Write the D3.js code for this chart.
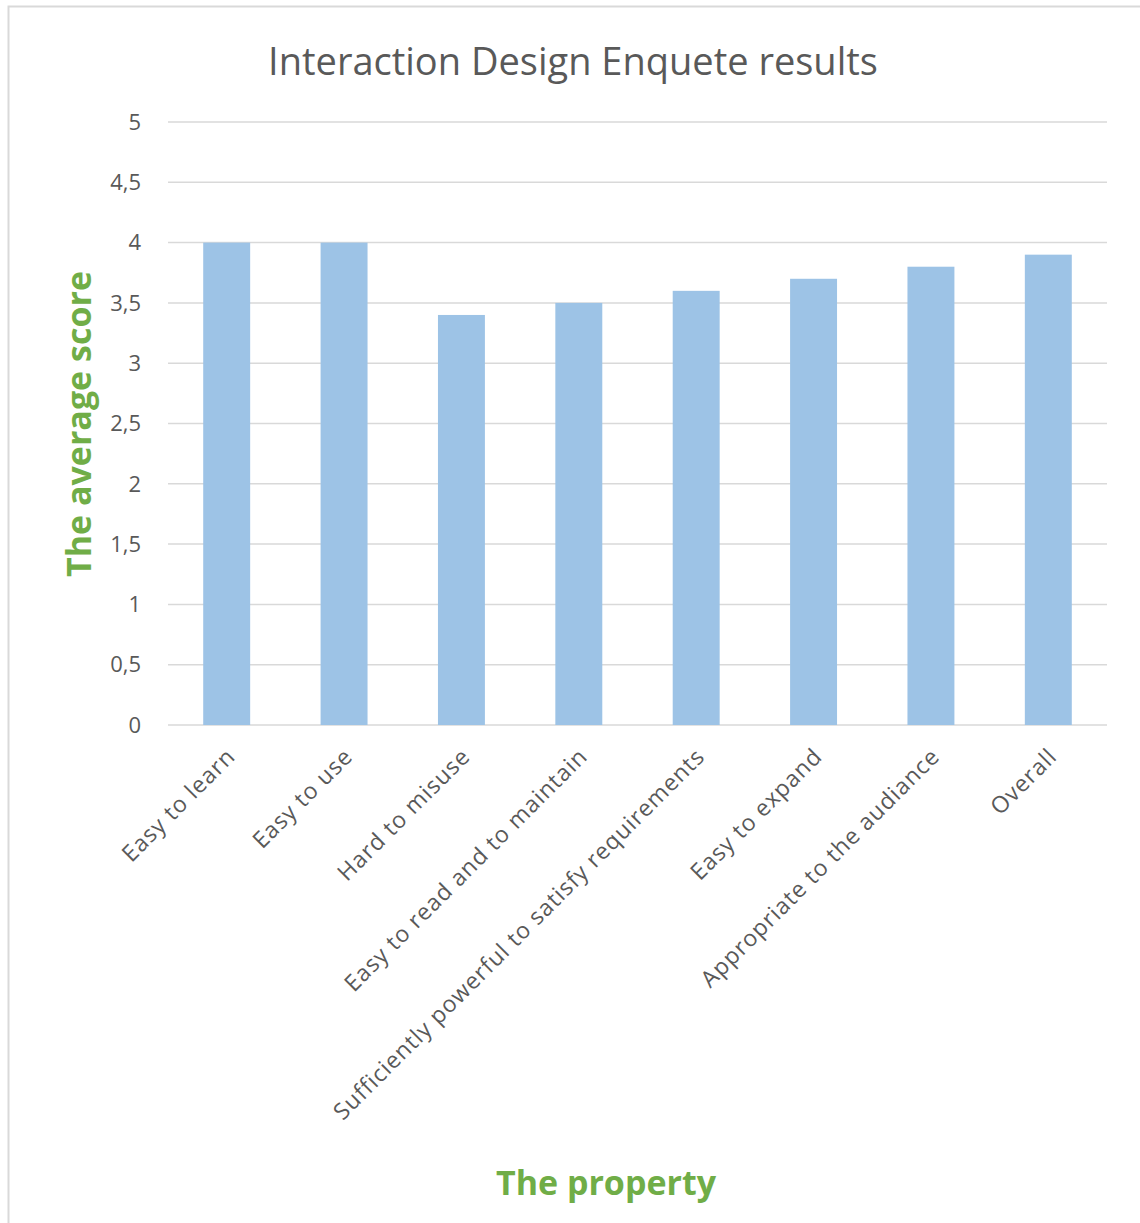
<!DOCTYPE html>
<html>
<head>
<meta charset="utf-8">
<script src="https://cdn.jsdelivr.net/npm/d3@7"></script>
<style>
  body { margin: 0; background: #fff; }
  text { font-family: "Open Sans", "DejaVu Sans", sans-serif; }
</style>
</head>
<body>
<script>
// survey categories and average scores
const categories = ["Easy to learn", "Easy to use", "Hard to misuse", "Easy to read and to maintain",
  "Sufficiently powerful to satisfy requirements", "Easy to expand", "Appropriate to the audiance", "Overall"];
const scores = [4.0, 4.0, 3.4, 3.5, 3.6, 3.7, 3.8, 3.9];
const yTicks = [0, 0.5, 1, 1.5, 2, 2.5, 3, 3.5, 4, 4.5, 5];

const chartTitle = "Interaction Design Enquete results";
const yTitle = "The average score";
const xTitle = "The property";

var width = 1140, height = 1223;
var margin = { top: 122, right: 33, bottom: 498, left: 168 };

var svg = d3.select("body").append("svg")
    .attr("width", width)
    .attr("height", height);

// outer frame
svg.append("rect")
    .attr("x", 8.5).attr("y", 6.5)
    .attr("width", width + 20).attr("height", height + 20)
    .attr("fill", "none")
    .attr("stroke", "#d9d9d9")
    .attr("stroke-width", 2);

var x = d3.scaleBand()
    .domain(categories)
    .range([margin.left, width - margin.right])
    .paddingInner(0.6)
    .paddingOuter(0.3);

var y = d3.scaleLinear()
    .domain([0, 5])
    .range([height - margin.bottom, margin.top]);

// gridlines
svg.append("g")
    .selectAll("line")
    .data(yTicks)
    .enter().append("line")
    .attr("x1", margin.left)
    .attr("x2", width - margin.right)
    .attr("y1", d => y(d))
    .attr("y2", d => y(d))
    .attr("stroke", "#d9d9d9")
    .attr("stroke-width", 1.5);

// y tick labels
svg.append("g")
    .selectAll("text")
    .data(yTicks)
    .enter().append("text")
    .attr("x", margin.left - 27)
    .attr("y", d => y(d))
    .attr("dy", "0.35em")
    .attr("text-anchor", "end")
    .attr("fill", "#595959")
    .style("font-size", "22px")
    .text(d => String(d).replace(".", ","));

// bars
svg.append("g")
    .selectAll("rect")
    .data(scores)
    .enter().append("rect")
    .attr("x", (d, i) => x(categories[i]))
    .attr("width", x.bandwidth())
    .attr("y", d => y(d))
    .attr("height", d => y(0) - y(d))
    .attr("fill", "#9dc3e6");

// x labels, rotated
svg.append("g")
    .selectAll("text")
    .data(categories)
    .enter().append("text")
    .attr("transform", d => "translate(" + (x(d) + x.bandwidth() / 2 + 10) + "," + (y(0) + 33) + ") rotate(-45)")
    .attr("text-anchor", "end")
    .attr("fill", "#595959")
    .style("font-size", "23px")
    .style("letter-spacing", "0.9px")
    .text(d => d);

// title
svg.append("text")
    .attr("x", 573)
    .attr("y", 75)
    .attr("text-anchor", "middle")
    .attr("fill", "#595959")
    .style("font-size", "38px")
    .text(chartTitle);

// axis titles
svg.append("text")
    .attr("transform", "translate(91,424) rotate(-90)")
    .attr("text-anchor", "middle")
    .attr("fill", "#70ad47")
    .style("font-size", "34px")
    .style("font-weight", "bold")
    .text(yTitle);

svg.append("text")
    .attr("x", 606)
    .attr("y", 1195)
    .attr("text-anchor", "middle")
    .attr("fill", "#70ad47")
    .style("font-size", "34px")
    .style("font-weight", "bold")
    .text(xTitle);
</script>
</body>
</html>
